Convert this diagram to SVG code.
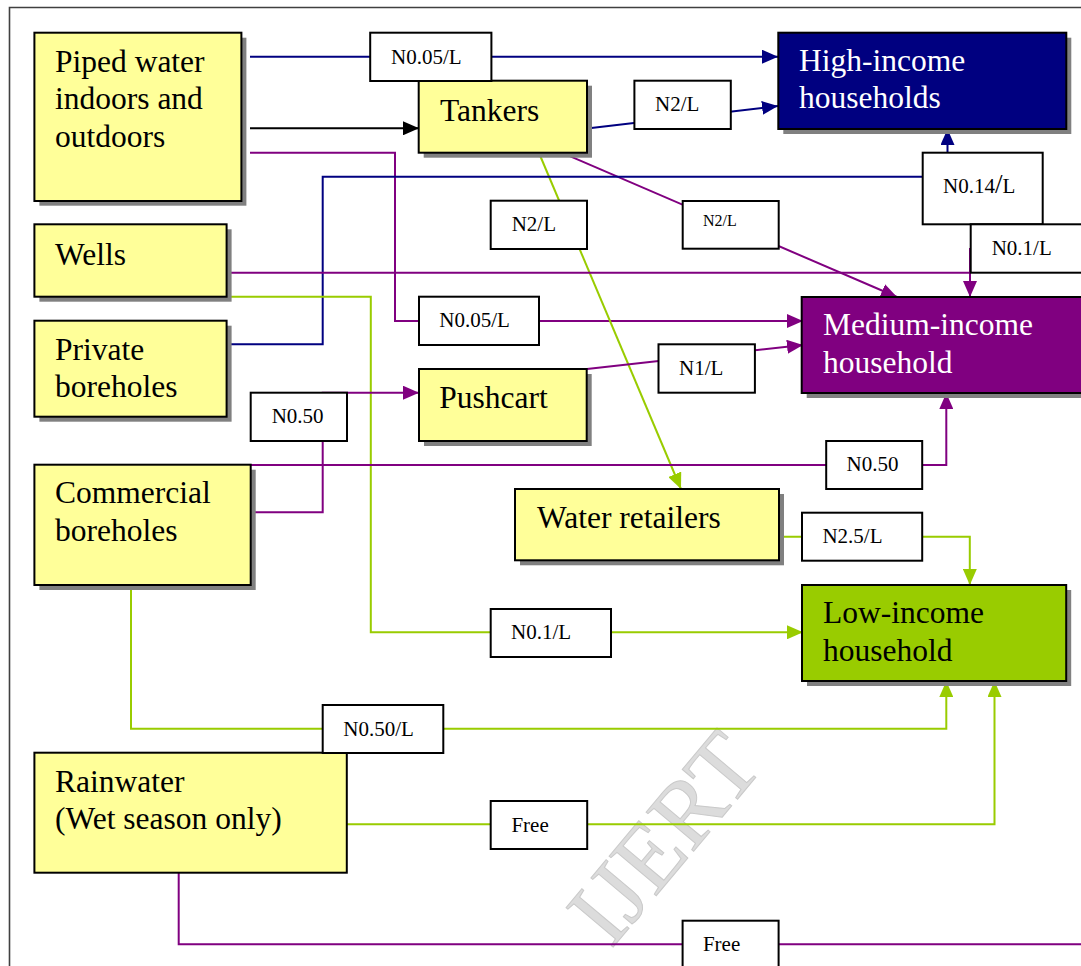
<svg xmlns="http://www.w3.org/2000/svg" width="1081" height="966" viewBox="0 0 1081 966">
<style>
.frame{fill:none;stroke:#404040;stroke-width:1.6}
.box{stroke:#000;stroke-width:2}
.src{fill:#FFFF99}
.sh{fill:#808080}
.nt{font-family:"Liberation Serif","Times New Roman",serif;font-size:31.5px;fill:#000}
.wt{fill:#fff}
.lb{fill:#fff;stroke:#000;stroke-width:2}
.lt{font-family:"Liberation Serif","Times New Roman",serif;font-size:21px;fill:#000}
.c{fill:none;stroke-width:2}
.navy{stroke:#000080}
.pur{stroke:#800080}
.grn{stroke:#99CC00}
.blk{stroke:#000}
.wm{font-family:"Liberation Serif","Times New Roman",serif;font-size:94px;fill:#d4d4d4;stroke:#bdbdbd;stroke-width:1;opacity:0.8}
</style>
<defs>
<marker id="aN" markerUnits="userSpaceOnUse" markerWidth="16" markerHeight="14" refX="16" refY="7" orient="auto"><path d="M0,0 L16,7 L0,14 z" fill="#000080"/></marker>
<marker id="aP" markerUnits="userSpaceOnUse" markerWidth="16" markerHeight="14" refX="16" refY="7" orient="auto"><path d="M0,0 L16,7 L0,14 z" fill="#800080"/></marker>
<marker id="aG" markerUnits="userSpaceOnUse" markerWidth="16" markerHeight="14" refX="16" refY="7" orient="auto"><path d="M0,0 L16,7 L0,14 z" fill="#99CC00"/></marker>
<marker id="aB" markerUnits="userSpaceOnUse" markerWidth="16" markerHeight="14" refX="16" refY="7" orient="auto"><path d="M0,0 L16,7 L0,14 z" fill="#000"/></marker>
</defs>
<rect x="0" y="0" width="1081" height="966" fill="#fff"/>
<path class="frame" d="M9.5,966 V7.5 H1081"/>
<text class="wm" x="688" y="858" text-anchor="middle" transform="rotate(-50 688 858)">IJERT</text>

<g id="connectors">
<path class="c navy" d="M250,56.7 H778" marker-end="url(#aN)"/>
<path class="c blk" d="M250,128.3 H419" marker-end="url(#aB)"/>
<path class="c pur" d="M250,152.7 H395 V321 H803" marker-end="url(#aP)"/>
<path class="c navy" d="M587,128.5 L778,106" marker-end="url(#aN)"/>
<path class="c grn" d="M539,153 L681,489" marker-end="url(#aG)"/>
<path class="c pur" d="M561.7,152.7 L897,297" marker-end="url(#aP)"/>
<path class="c navy" d="M226.6,344.3 H322.7 V176.7 H922.7"/>
<path class="c navy" d="M947.5,152.7 V129" marker-end="url(#aN)"/>
<path class="c pur" d="M226.6,272.7 H970 V297" marker-end="url(#aP)"/>
<path class="c pur" d="M970,248 V272.7"/>
<path class="c grn" d="M226.6,296.7 H370.8 V632.3 H803" marker-end="url(#aG)"/>
<path class="c pur" d="M587,369 L803,345" marker-end="url(#aP)"/>
<path class="c pur" d="M251,512.3 H322.7 V392.7 H419" marker-end="url(#aP)"/>
<path class="c pur" d="M251,465 H946.3 V393" marker-end="url(#aP)"/>
<path class="c grn" d="M779,536.7 H969.8 V585" marker-end="url(#aG)"/>
<path class="c grn" d="M131,585 V728.7 H946.3 V681" marker-end="url(#aG)"/>
<path class="c grn" d="M346.8,824.3 H994.5 V681" marker-end="url(#aG)"/>
<path class="c pur" d="M178.7,873 V944.3 H1085"/>
</g>

<g id="piped">
<rect class="sh" x="39.4" y="37.7" width="207" height="168"/>
<rect class="box src" x="34.4" y="32.7" width="207" height="168.3"/>
<text class="nt" x="55" y="71.7">Piped water</text>
<text class="nt" x="55" y="109">indoors and</text>
<text class="nt" x="55" y="146.7">outdoors</text>
</g>
<g id="wells">
<rect class="sh" x="39.4" y="229.3" width="192.2" height="72.4"/>
<rect class="box src" x="34.4" y="224.3" width="192.2" height="72.4"/>
<text class="nt" x="55" y="265">Wells</text>
</g>
<g id="private">
<rect class="sh" x="39.4" y="325.7" width="192.2" height="96"/>
<rect class="box src" x="34.4" y="320.7" width="192.2" height="96"/>
<text class="nt" x="55" y="360">Private</text>
<text class="nt" x="55" y="397.3">boreholes</text>
</g>
<g id="commercial">
<rect class="sh" x="39.4" y="469.7" width="216.3" height="120.3"/>
<rect class="box src" x="34.4" y="464.7" width="216.3" height="120.3"/>
<text class="nt" x="55" y="503.3">Commercial</text>
<text class="nt" x="55" y="540.7">boreholes</text>
</g>
<g id="rainwater">
<rect class="box src" x="34.4" y="752.7" width="312.4" height="120"/>
<text class="nt" x="55" y="791.7">Rainwater</text>
<text class="nt" x="55" y="829">(Wet season only)</text>
</g>
<g id="tankers">
<rect class="sh" x="423.7" y="85.7" width="168.3" height="72"/>
<rect class="box src" x="418.7" y="80.7" width="168.3" height="72"/>
<text class="nt" x="440" y="120.7">Tankers</text>
</g>
<g id="pushcart">
<rect class="sh" x="424" y="374" width="167.7" height="72"/>
<rect class="box src" x="419" y="369" width="167.7" height="72"/>
<text class="nt" x="439.3" y="408.3">Pushcart</text>
</g>
<g id="retailers">
<rect class="sh" x="520" y="494" width="264" height="71.3"/>
<rect class="box src" x="515" y="489" width="264" height="71.3"/>
<text class="nt" x="537" y="528.3">Water retailers</text>
</g>
<g id="high">
<rect class="sh" x="783.3" y="37.7" width="288" height="96.3"/>
<rect class="box" fill="#000080" x="778.3" y="32.7" width="288" height="96.3"/>
<text class="nt wt" x="799" y="71">High-income</text>
<text class="nt wt" x="799" y="108.3">households</text>
</g>
<g id="medium">
<rect class="sh" x="806.7" y="302" width="290" height="96"/>
<rect class="box" fill="#800080" x="801.7" y="297" width="290" height="96"/>
<text class="nt wt" x="823" y="335">Medium-income</text>
<text class="nt wt" x="823" y="372.7">household</text>
</g>
<g id="low">
<rect class="sh" x="807" y="590" width="264.2" height="96"/>
<rect class="box" fill="#99CC00" x="802" y="585" width="264.2" height="96"/>
<text class="nt" x="823" y="623.3">Low-income</text>
<text class="nt" x="823" y="661">household</text>
</g>

<g id="labels">
<g id="l1"><rect class="lb" x="370.2" y="32.7" width="121.2" height="48.3"/><text class="lt" x="391" y="64">N0.05/L</text></g>
<g id="l2"><rect class="lb" x="634.4" y="80.7" width="96.4" height="48.3"/><text class="lt" x="655" y="111">N2/L</text></g>
<g id="l3"><rect class="lb" x="490.7" y="200.7" width="96.3" height="48.3"/><text class="lt" x="511.7" y="230.7">N2/L</text></g>
<g id="l4"><rect class="lb" x="682.7" y="201" width="96" height="47.7"/><text class="lt" x="703" y="226" style="font-size:16px">N2/L</text></g>
<g id="l5"><rect class="lb" x="922.7" y="152.7" width="120" height="71.6"/><text class="lt" x="943" y="192.7">N0.14<tspan style="font-size:27px">/</tspan>L</text></g>
<g id="l6"><rect class="lb" x="970.7" y="224.3" width="120" height="48.4"/><text class="lt" x="991.7" y="255">N0.1/L</text></g>
<g id="l7"><rect class="lb" x="419" y="296.7" width="120" height="48.3"/><text class="lt" x="439.3" y="326.7">N0.05/L</text></g>
<g id="l8"><rect class="lb" x="658.5" y="344.3" width="96.4" height="48.4"/><text class="lt" x="679" y="375">N1/L</text></g>
<g id="l9"><rect class="lb" x="250.7" y="392.7" width="96.3" height="48.3"/><text class="lt" x="271.7" y="422.7">N0.50</text></g>
<g id="l10"><rect class="lb" x="826.2" y="441" width="96" height="48"/><text class="lt" x="846.5" y="470.7">N0.50</text></g>
<g id="l11"><rect class="lb" x="802" y="512.7" width="120.2" height="48"/><text class="lt" x="822.4" y="543.3">N2.5/L</text></g>
<g id="l12"><rect class="lb" x="490.7" y="609" width="120.3" height="48"/><text class="lt" x="511" y="639">N0.1/L</text></g>
<g id="l13"><rect class="lb" x="322.7" y="705" width="120.6" height="48"/><text class="lt" x="343.3" y="735.7">N0.50/L</text></g>
<g id="l14"><rect class="lb" x="490.7" y="801" width="96.5" height="48"/><text class="lt" x="511.4" y="831.7">Free</text></g>
<g id="l15"><rect class="lb" x="682.6" y="920.7" width="96" height="60"/><text class="lt" x="702.9" y="951">Free</text></g>
</g>
</svg>
